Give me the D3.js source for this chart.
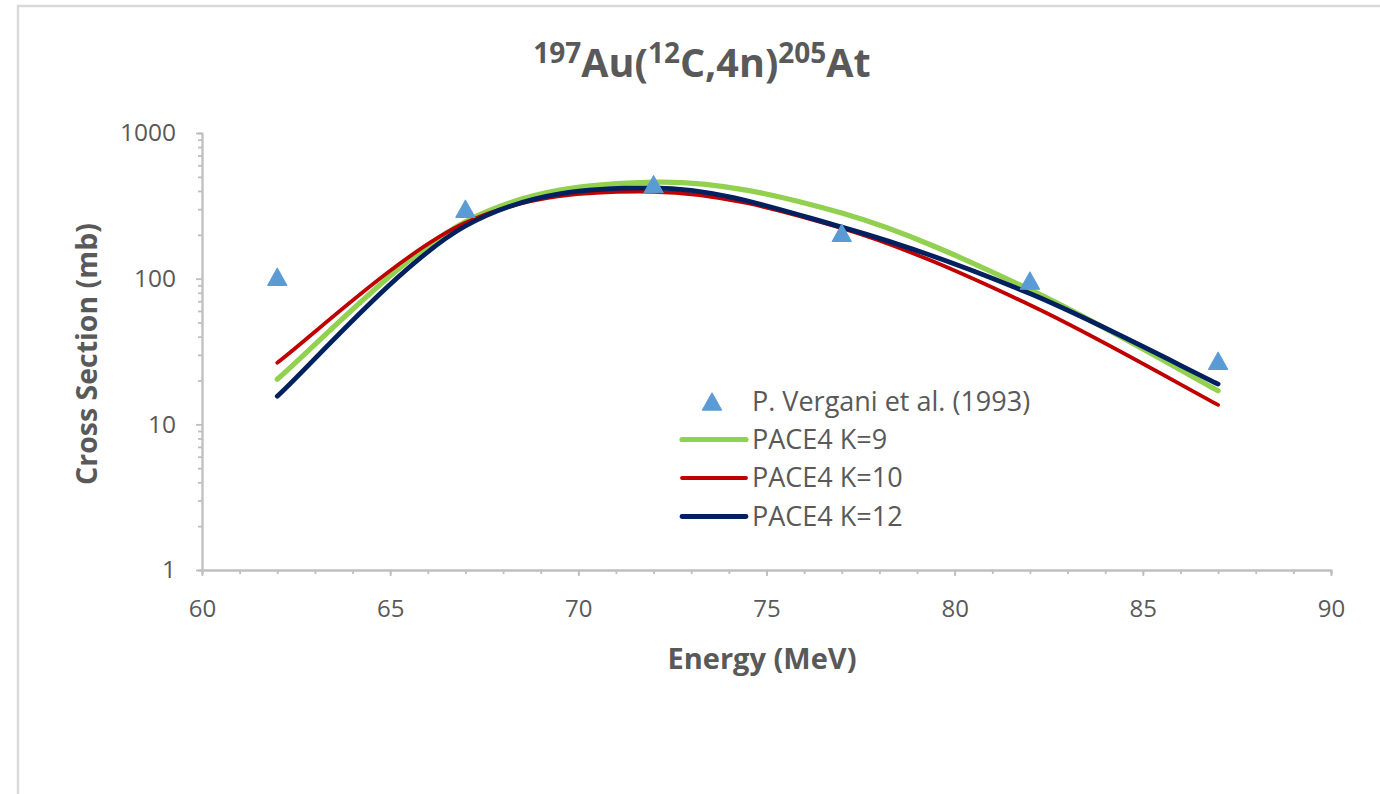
<!DOCTYPE html>
<html>
<head>
<meta charset="utf-8">
<script src="https://cdn.jsdelivr.net/npm/d3@7"></script>
<style>
  html, body { margin: 0; padding: 0; background: #fff; }
  svg { display: block; font-family: "Open Sans", sans-serif; }
</style>
</head>
<body>
<svg id="chart" width="1380" height="794"></svg>
<script>
// Beam energies (MeV) at which cross sections are given
const energies = [62, 67, 72, 77, 82, 87];

// Measured cross sections, P. Vergani et al. (1993), in mb
const vergani = [103, 302, 445, 206, 97, 27.3];

// PACE4 calculations for different level density parameters K
const pace4K9  = [20.4, 246, 460, 282, 84, 17.0];
const pace4K10 = [26.5, 242, 395, 222, 66, 13.6];
const pace4K12 = [15.6, 230, 420, 226, 79, 18.9];

// Axis ticks
const xMajorTicks = [60, 65, 70, 75, 80, 85, 90];
const xMinorTicks = d3.range(60, 91, 1);
const yMajorTicks = [1, 10, 100, 1000];
const yMinorTicks = [2,3,4,5,6,7,8,9, 20,30,40,50,60,70,80,90, 200,300,400,500,600,700,800,900];

const series = [
  { name: "PACE4 K=9",  values: pace4K9,  color: "#92D050", width: 5.2 },
  { name: "PACE4 K=10", values: pace4K10, color: "#C00000", width: 3.8 },
  { name: "PACE4 K=12", values: pace4K12, color: "#002060", width: 4.8 }
];

const textColor = "#595959";
const axisColor = "#BFBFBF";
const markerColor = "#5B9BD5";

const svg = d3.select("#chart");

// Chart frame
svg.append("rect")
  .attr("x", 18).attr("y", 6)
  .attr("width", 1400).attr("height", 820)
  .attr("fill", "none").attr("stroke", "#D9D9D9").attr("stroke-width", 2.5);

const x = d3.scaleLinear().domain([60, 90]).range([202, 1331]);
const y = d3.scaleLog().domain([1, 1000]).range([570, 133]);

// Smoothed line through the points (Bezier with 1/6 tangents, like spreadsheet smoothing)
function smoothCurve(context) {
  let pts = [];
  return {
    areaStart() {}, areaEnd() {},
    lineStart() { pts = []; },
    point(px, py) { pts.push([+px, +py]); },
    lineEnd() {
      const n = pts.length;
      if (!n) return;
      context.moveTo(pts[0][0], pts[0][1]);
      for (let i = 0; i < n - 1; i++) {
        const p0 = pts[i - 1] || pts[i];
        const p1 = pts[i];
        const p2 = pts[i + 1];
        const p3 = pts[i + 2] || pts[i + 1];
        context.bezierCurveTo(
          p1[0] + (p2[0] - p0[0]) / 6, p1[1] + (p2[1] - p0[1]) / 6,
          p2[0] - (p3[0] - p1[0]) / 6, p2[1] - (p3[1] - p1[1]) / 6,
          p2[0], p2[1]);
      }
    }
  };
}

// Axes
const axisStyle = g => {
  g.selectAll(".domain").attr("stroke", axisColor).attr("stroke-width", 1.8);
  g.selectAll(".tick line").attr("stroke", axisColor).attr("stroke-width", 1.8);
};

svg.append("g")
  .attr("transform", "translate(0,570)")
  .call(d3.axisBottom(x).tickValues(xMinorTicks).tickSize(4).tickFormat(""))
  .call(axisStyle);

const xAxis = svg.append("g")
  .attr("transform", "translate(0,570)")
  .call(d3.axisBottom(x).tickValues(xMajorTicks).tickSize(6).tickSizeOuter(0))
  .call(axisStyle);
xAxis.selectAll(".tick text")
  .attr("y", 47).attr("dy", null)
  .attr("fill", textColor).attr("font-size", 24)
  .attr("font-family", "Open Sans, sans-serif");

svg.append("g")
  .attr("transform", "translate(202,0)")
  .call(d3.axisLeft(y).tickValues(yMinorTicks).tickSize(4).tickFormat(""))
  .call(axisStyle);

const yAxis = svg.append("g")
  .attr("transform", "translate(202,0)")
  .call(d3.axisLeft(y).tickValues(yMajorTicks).tickSize(6).tickSizeOuter(0)
    .tickPadding(20).tickFormat(d3.format("d")))
  .call(axisStyle);
yAxis.selectAll(".tick text")
  .attr("fill", textColor).attr("font-size", 24.5)
  .attr("font-family", "Open Sans, sans-serif");

// Model curves
const line = d3.line()
  .x((d, i) => x(energies[i]))
  .y(d => y(d))
  .curve(smoothCurve);

svg.append("g").selectAll("path")
  .data(series)
  .join("path")
  .attr("d", s => line(s.values))
  .attr("fill", "none")
  .attr("stroke", s => s.color)
  .attr("stroke-width", s => s.width)
  .attr("stroke-linecap", "round")
  .attr("stroke-linejoin", "round");

// Triangle marker, centred on the point
const triangle = {
  draw(ctx, size) {
    const w = size, h = size * 0.9;
    ctx.moveTo(0, -h / 2);
    ctx.lineTo(w / 2, h / 2);
    ctx.lineTo(-w / 2, h / 2);
    ctx.closePath();
  }
};
const marker = d3.symbol().type(triangle).size(19);

svg.append("g").selectAll("path")
  .data(vergani)
  .join("path")
  .attr("transform", (d, i) => `translate(${x(energies[i])},${y(d)})`)
  .attr("d", marker)
  .attr("fill", markerColor)
  .attr("stroke", markerColor)
  .attr("stroke-width", 1.2)
  .attr("stroke-linejoin", "round");

// Legend
const legend = svg.append("g").attr("font-size", 27).attr("fill", textColor);
legend.append("path")
  .attr("transform", "translate(712,401.5)")
  .attr("d", marker)
  .attr("fill", markerColor)
  .attr("stroke", markerColor)
  .attr("stroke-width", 1.2)
  .attr("stroke-linejoin", "round");
legend.append("text")
  .attr("x", 752).attr("y", 401.5).attr("dy", "0.35em")
  .text("P. Vergani et al. (1993)");

const rowY = [439.5, 478, 516.5];
series.forEach((s, i) => {
  legend.append("line")
    .attr("x1", 682).attr("x2", 746)
    .attr("y1", rowY[i]).attr("y2", rowY[i])
    .attr("stroke", s.color).attr("stroke-width", s.width)
    .attr("stroke-linecap", "round");
  legend.append("text")
    .attr("x", 752).attr("y", rowY[i]).attr("dy", "0.35em")
    .text(s.name);
});

// Title with superscript mass numbers
const title = svg.append("text")
  .attr("x", 702).attr("y", 77)
  .attr("text-anchor", "middle")
  .attr("font-weight", "bold")
  .attr("fill", textColor)
  .attr("font-size", 39.5);
const parts = [
  { t: "197", sup: true }, { t: "Au(", sup: false },
  { t: "12", sup: true }, { t: "C,4n)", sup: false },
  { t: "205", sup: true }, { t: "At", sup: false }
];
let raised = false;
parts.forEach(p => {
  const ts = title.append("tspan").text(p.t);
  if (p.sup) {
    ts.attr("font-size", 28);
    if (!raised) { ts.attr("dy", -14); raised = true; }
  } else if (raised) {
    ts.attr("dy", 14); raised = false;
  }
});

// Axis titles
svg.append("text")
  .attr("x", 762).attr("y", 669)
  .attr("text-anchor", "middle")
  .attr("font-weight", "bold")
  .attr("font-size", 29)
  .attr("fill", textColor)
  .text("Energy (MeV)");

svg.append("text")
  .attr("transform", "translate(97,354) rotate(-90)")
  .attr("text-anchor", "middle")
  .attr("font-weight", "bold")
  .attr("font-size", 28.5)
  .attr("fill", textColor)
  .text("Cross Section (mb)");
</script>
</body>
</html>
